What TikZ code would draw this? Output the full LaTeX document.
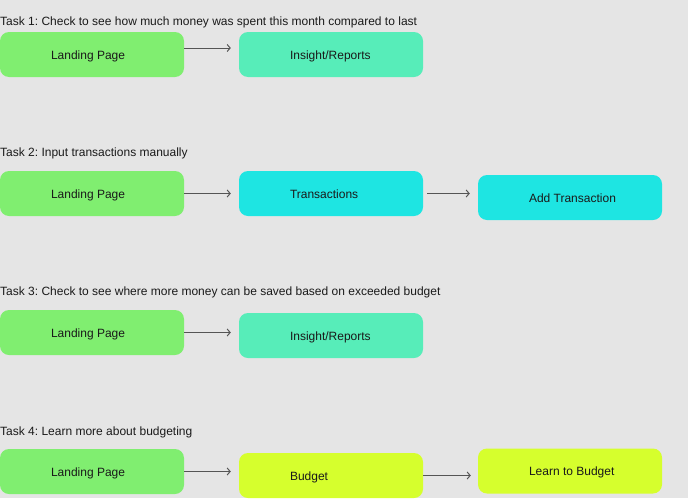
\documentclass[tikz,border=0pt]{standalone}
\usepackage{fontspec}
\setmainfont{Liberation Sans}
\usetikzlibrary{arrows.meta}
\frenchspacing

\definecolor{bggray}{HTML}{E5E5E5}
\definecolor{landgreen}{HTML}{80EE70}
\definecolor{reportteal}{HTML}{57EDB9}
\definecolor{transcyan}{HTML}{1EE5E2}
\definecolor{budgetlime}{HTML}{D6FF2D}
\definecolor{arrowgray}{HTML}{555555}
\definecolor{inkblack}{HTML}{1A1A1A}

\tikzset{
  screen/.style={rounded corners=9pt,minimum width=184pt,minimum height=45pt,inner sep=0pt},
  screenlabel/.style={anchor=base west,inner sep=0pt,text=inkblack,font=\fontsize{12}{14}\selectfont},
  tasklabel/.style={anchor=base west,inner sep=0pt,text=inkblack,font=\fontsize{12}{14}\selectfont},
  flow/.style={draw=arrowgray,line width=1pt,-{Straight Barb[length=3pt,width=7pt]},shorten >=8pt}
}

\begin{document}
\begin{tikzpicture}[x=1pt,y=-1pt]

% Background
\fill[bggray] (0,0) rectangle (688,498);

% Task 1
\node[tasklabel] (t1) at (0,25) {Task 1: Check to see how much money was spent this month compared to last};
\node[screen,fill=landgreen] (land1) at (92,54.5) {};
\node[screen,fill=reportteal] (rep1) at (331,54.5) {};
\node[screenlabel] at ([xshift=51pt,yshift=-4.5pt]land1.west) {Landing Page};
\node[screenlabel] at ([xshift=51pt,yshift=-4.5pt]rep1.west) {Insight/Reports};
\coordinate (a1) at ([yshift=6.5pt]land1.east);
\draw[flow] (a1) -- (a1 -| rep1.west);

% Task 2
\node[tasklabel] (t2) at (0,156) {Task 2: Input transactions manually};
\node[screen,fill=landgreen] (land2) at (92,193.5) {};
\node[screen,fill=transcyan] (trans2) at (331,193.5) {};
\node[screen,fill=transcyan] (add2) at (570,197.5) {};
\node[screenlabel] at ([xshift=51pt,yshift=-4.5pt]land2.west) {Landing Page};
\node[screenlabel] at ([xshift=51pt,yshift=-4.5pt]trans2.west) {Transactions};
\node[screenlabel] at ([xshift=51pt,yshift=-4.5pt]add2.west) {Add Transaction};
\draw[flow] (land2.east) -- (land2.east -| trans2.west);
\coordinate (a2) at ([xshift=4pt]trans2.east);
\draw[flow] (a2) -- (a2 -| add2.west);

% Task 3
\node[tasklabel] (t3) at (0,295.5) {Task 3: Check to see where more money can be saved based on exceeded budget};
\node[screen,fill=landgreen] (land3) at (92,332.5) {};
\node[screen,fill=reportteal] (rep3) at (331,335.5) {};
\node[screenlabel] at ([xshift=51pt,yshift=-4.5pt]land3.west) {Landing Page};
\node[screenlabel] at ([xshift=51pt,yshift=-4.5pt]rep3.west) {Insight/Reports};
\draw[flow] (land3.east) -- (land3.east -| rep3.west);

% Task 4
\node[tasklabel] (t4) at (0,435) {Task 4: Learn more about budgeting};
\node[screen,fill=landgreen] (land4) at (92,471.5) {};
\node[screen,fill=budgetlime] (bud4) at (331,475.5) {};
\node[screen,fill=budgetlime] (learn4) at (570,471) {};
\node[screenlabel] at ([xshift=51pt,yshift=-4.5pt]land4.west) {Landing Page};
\node[screenlabel] at ([xshift=51pt,yshift=-4.5pt]bud4.west) {Budget};
\node[screenlabel] at ([xshift=51pt,yshift=-4.5pt]learn4.west) {Learn to Budget};
\draw[flow] (land4.east) -- (land4.east -| bud4.west);
\draw[flow] (bud4.east) -- ([xshift=1pt]bud4.east -| learn4.west);

\end{tikzpicture}
\end{document}
